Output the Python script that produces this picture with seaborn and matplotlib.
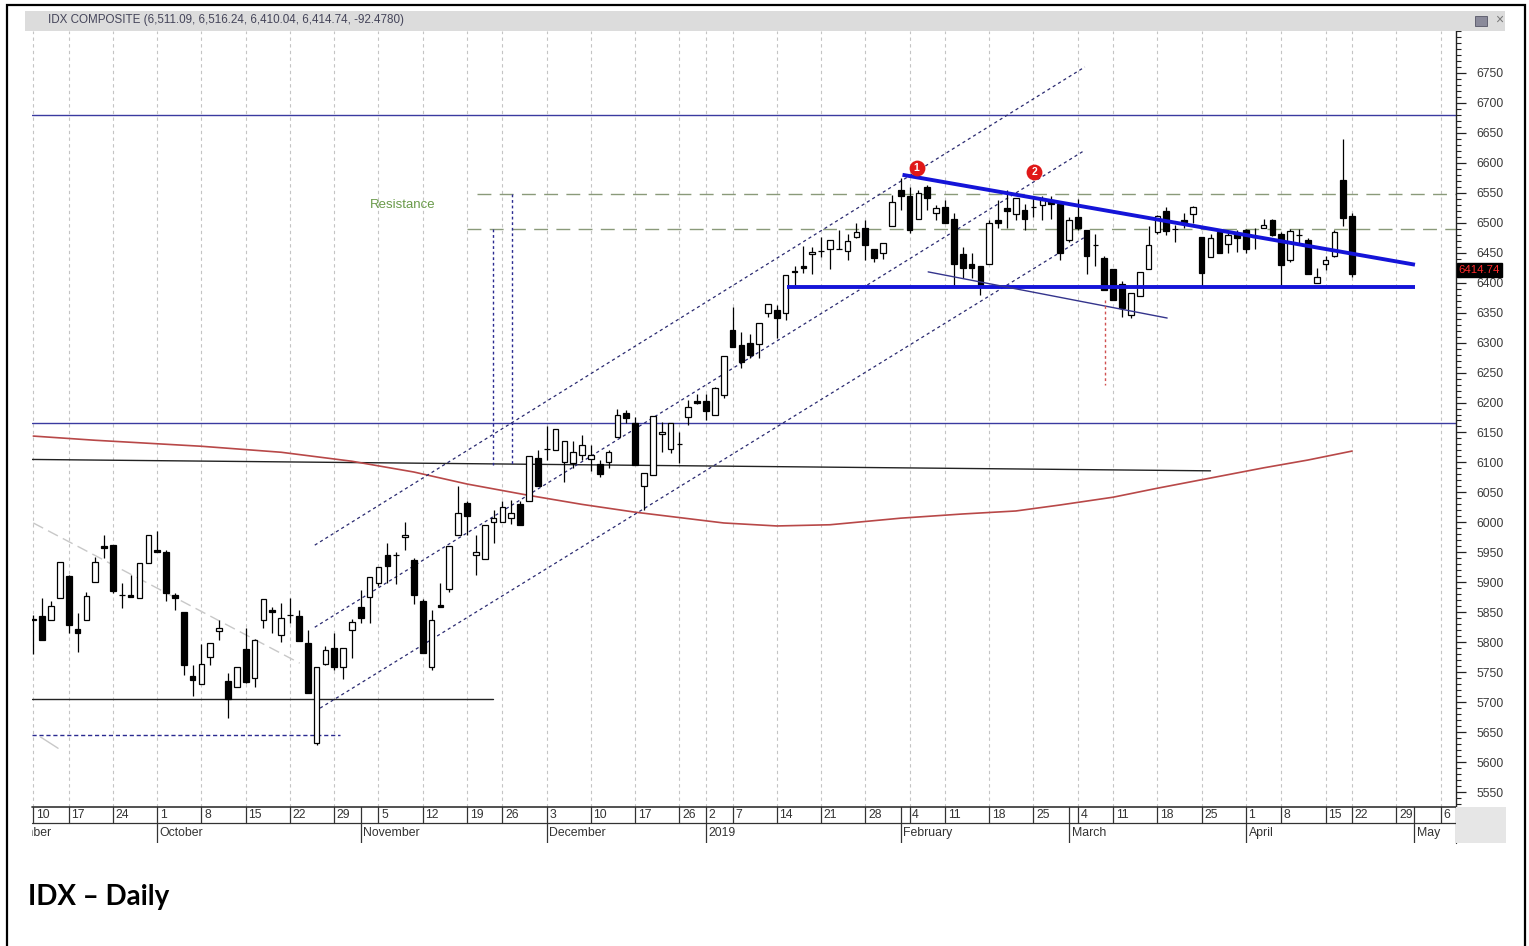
import numpy as np
import pandas as pd
import matplotlib
matplotlib.use("Agg")
import matplotlib.pyplot as plt
import seaborn as sns
from matplotlib.patches import Rectangle
from matplotlib.ticker import MultipleLocator

# === DATA ===
FIRST_BAR = "2018-09-10"
HOLIDAYS = ["2018-09-11", "2018-11-20", "2018-12-24", "2018-12-25", "2018-12-31",
            "2019-01-01", "2019-02-05", "2019-03-07", "2019-04-03", "2019-04-17", "2019-04-19"]
LAST_BAR = "2019-04-22"

OPEN = [5838, 5843, 5837, 5873, 5911, 5822, 5837, 5900, 5960, 5962,
        5879, 5878, 5873, 5933, 5954, 5950, 5878, 5850, 5743, 5730,
        5776, 5818, 5736, 5725, 5789, 5740, 5837, 5854, 5812, 5845,
        5843, 5799, 5631, 5764, 5791, 5759, 5820, 5858, 5876, 5898,
        5946, 5946, 5975, 5937, 5869, 5758, 5862, 5889, 5979, 6032,
        5946, 5939, 6001, 6001, 6007, 6031, 6035, 6107, 6122, 6121,
        6100, 6099, 6112, 6106, 6097, 6100, 6143, 6182, 6165, 6060,
        6079, 6148, 6122, 6131, 6176, 6203, 6203, 6179, 6212, 6321,
        6296, 6300, 6298, 6350, 6354, 6350, 6420, 6427, 6448, 6453,
        6456, 6456, 6453, 6477, 6492, 6457, 6449, 6495, 6555, 6544,
        6506, 6559, 6517, 6526, 6506, 6448, 6432, 6428, 6432, 6505,
        6524, 6515, 6522, 6527, 6530, 6538, 6532, 6471, 6510, 6488,
        6463, 6442, 6422, 6398, 6346, 6378, 6422, 6485, 6519, 6489,
        6505, 6515, 6477, 6443, 6485, 6465, 6481, 6488, 6477, 6492,
        6505, 6482, 6438, 6480, 6472, 6399, 6431, 6445, 6571, 6511.09]
HIGH = [5845, 5873, 5868, 5934, 5912, 5848, 5884, 5942, 5979, 5962,
        5898, 5912, 5933, 5979, 5985, 5954, 5882, 5850, 5762, 5797,
        5799, 5837, 5748, 5759, 5823, 5805, 5872, 5859, 5865, 5873,
        5854, 5820, 5758, 5793, 5816, 5791, 5838, 5887, 5908, 5925,
        5965, 5951, 6001, 5940, 5872, 5854, 5898, 5960, 6061, 6036,
        5979, 5996, 6020, 6036, 6037, 6036, 6110, 6120, 6160, 6156,
        6135, 6135, 6146, 6129, 6104, 6121, 6190, 6188, 6176, 6083,
        6178, 6168, 6166, 6151, 6204, 6215, 6215, 6226, 6278, 6360,
        6318, 6315, 6333, 6364, 6363, 6413, 6428, 6461, 6460, 6476,
        6471, 6488, 6482, 6500, 6505, 6457, 6467, 6546, 6574, 6559,
        6554, 6563, 6530, 6538, 6517, 6459, 6449, 6428, 6505, 6538,
        6555, 6541, 6532, 6541, 6544, 6544, 6532, 6510, 6539, 6488,
        6482, 6445, 6422, 6402, 6382, 6417, 6494, 6513, 6526, 6496,
        6517, 6528, 6477, 6481, 6488, 6488, 6488, 6489, 6491, 6507,
        6507, 6485, 6489, 6489, 6474, 6424, 6445, 6488, 6639, 6516.24]
LOW = [5781, 5803, 5837, 5873, 5816, 5784, 5837, 5900, 5940, 5882,
       5857, 5875, 5873, 5933, 5950, 5868, 5854, 5745, 5710, 5730,
       5762, 5804, 5673, 5725, 5732, 5725, 5823, 5815, 5800, 5832,
       5802, 5715, 5628, 5762, 5753, 5738, 5773, 5832, 5832, 5893,
       5898, 5897, 5954, 5864, 5782, 5754, 5858, 5884, 5979, 5979,
       5912, 5939, 5965, 6001, 5998, 5996, 6035, 6061, 6104, 6121,
       6068, 6090, 6104, 6085, 6075, 6090, 6143, 6165, 6096, 6021,
       6079, 6118, 6115, 6099, 6163, 6198, 6171, 6179, 6207, 6292,
       6257, 6274, 6274, 6343, 6307, 6338, 6396, 6416, 6415, 6443,
       6422, 6456, 6438, 6474, 6438, 6435, 6439, 6495, 6521, 6483,
       6506, 6522, 6505, 6499, 6396, 6407, 6407, 6380, 6432, 6491,
       6491, 6505, 6488, 6510, 6505, 6506, 6438, 6468, 6488, 6415,
       6427, 6387, 6371, 6343, 6341, 6378, 6422, 6482, 6480, 6468,
       6491, 6499, 6395, 6443, 6450, 6449, 6452, 6450, 6457, 6491,
       6478, 6396, 6435, 6463, 6415, 6399, 6421, 6443, 6494, 6410.04]
CLOSE = [5837, 5803, 5861, 5934, 5828, 5816, 5877, 5934, 5958, 5886,
         5879, 5875, 5932, 5979, 5950, 5882, 5873, 5762, 5737, 5764,
         5799, 5824, 5705, 5759, 5733, 5803, 5872, 5850, 5840, 5845,
         5802, 5715, 5758, 5787, 5759, 5791, 5834, 5840, 5908, 5925,
         5927, 5946, 5979, 5879, 5782, 5837, 5858, 5960, 6016, 6010,
         5951, 5996, 6007, 6025, 6016, 5996, 6110, 6061, 6122, 6156,
         6135, 6118, 6129, 6112, 6081, 6118, 6179, 6175, 6096, 6083,
         6178, 6151, 6166, 6131, 6193, 6200, 6186, 6224, 6278, 6292,
         6268, 6279, 6333, 6364, 6341, 6413, 6417, 6424, 6452, 6453,
         6471, 6456, 6470, 6485, 6463, 6442, 6467, 6535, 6544, 6488,
         6550, 6541, 6524, 6500, 6432, 6424, 6424, 6396, 6500, 6499,
         6519, 6541, 6506, 6527, 6538, 6532, 6449, 6505, 6492, 6445,
         6463, 6387, 6371, 6357, 6382, 6417, 6463, 6511, 6487, 6489,
         6502, 6527, 6416, 6474, 6450, 6480, 6474, 6457, 6477, 6497,
         6480, 6430, 6487, 6480, 6415, 6409, 6438, 6485, 6507.22, 6414.74]

# 200-day moving average, read at a few bars
MA_BAR = [0, 7, 19, 28, 36, 43, 49, 56, 62, 68, 78, 84, 90, 98, 105, 111, 116, 122, 127, 133, 139, 144, 149]
MA_VAL = [6144, 6137, 6127, 6117, 6102, 6084, 6064, 6045, 6030, 6017, 5999, 5994, 5996,
          6007, 6014, 6019, 6029, 6042, 6057, 6074, 6091, 6104, 6119]

# drawn studies: (bar, price) end points
CH_UPPER = ([31.8, 118.8], [5962, 6760])
CH_MIDDLE = ([31.8, 118.8], [5825, 6621])
CH_LOWER = ([32.4, 118.8], [5690, 6476])
OLD_TREND = ([0, 30.1], [5999, 5765])
OLD_TREND2 = ([0.8, 2.8], [5642, 5623])
DOWN_TREND = ([98.2, 156.1], [6580, 6430])
SUPPORT = ([85.1, 156.1], [6393, 6393])
WEDGE_LOW = ([101.1, 128.1], [6418, 6341])
BLACK_LINE = ([-0.2, 133.0], [6105, 6086])
BLACK_LOW = ([-0.2, 51.9], [5705, 5705])
BLUE_DASH_LOW = ([-0.2, 34.7], [5645, 5645])
BLUE_LEVELS = [6680, 6166]
RESIST_HI = ([50.1, 161], [6548, 6548])
RESIST_LO = ([49.0, 161], [6490, 6490])
TARGET_A = (51.9, 6490, 6096)
TARGET_B = (54.1, 6548, 6096)
RED_DROP = (121.1, 6371, 6229)
PEAKS = ([99.8, 113.1], [6591, 6585], ["1", "2"])

HEADER = "IDX COMPOSITE (6,511.09, 6,516.24, 6,410.04, 6,414.74, -92.4780)"
LAST_PRICE = 6414.74
CAPTION = "IDX \u2013 Daily"

# === TRADING CALENDAR ===
days = pd.bdate_range("2018-09-03", "2019-05-10")
past = days[(days <= LAST_BAR) & (~days.isin(pd.to_datetime(HOLIDAYS)))]
future = days[days > LAST_BAR]
cal = past.append(future)
pos = np.arange(len(cal)) - list(cal).index(pd.Timestamp(FIRST_BAR))
cal_df = pd.DataFrame({"date": cal, "pos": pos})
iso = cal_df["date"].dt.isocalendar()
week_starts = cal_df.groupby([iso["year"], iso["week"]])["pos"].min().values
month_starts = cal_df.groupby([cal_df["date"].dt.year, cal_df["date"].dt.month])["pos"].min().values
date_at = dict(zip(cal_df["pos"], cal_df["date"]))

# === FIGURE ===
sns.set_theme(style="white")
plt.rcParams["font.family"] = ["Liberation Sans", "DejaVu Sans"]
W, H = 1529, 946
fig = plt.figure(figsize=(W / 100, H / 100), dpi=100)

def fx(px):
    return px / W

def fy(py):
    return 1 - py / H

L, R, T, B = 31.7, 1455.7, 31, 807
ax = fig.add_axes([fx(L), fy(B), fx(R - L), (B - T) / H])
XLIM = (-0.18, 160.7)
ax.set_xlim(*XLIM)
ax.set_ylim(5525, 6820)
ax.set_facecolor("white")

# weekly grid
for p in week_starts:
    ax.axvline(p, color="#c4c4c4", lw=0.8, ls=(0, (3, 3)), zorder=0)

# horizontal levels
for lvl in BLUE_LEVELS:
    ax.axhline(lvl, color="#3a3aa0", lw=1.0, zorder=1)
ax.plot(*BLACK_LINE, color="#222222", lw=1.0, zorder=1)
ax.plot(*BLACK_LOW, color="#222222", lw=1.0, zorder=1)
ax.plot(*BLUE_DASH_LOW, color="#2a2a90", lw=1.0, ls=(0, (3, 2)), zorder=1)
ax.plot(*OLD_TREND, color="#c8c8c8", lw=1.0, ls=(0, (8, 4)), zorder=1)
ax.plot(*OLD_TREND2, color="#c8c8c8", lw=1.0, zorder=1)

# resistance zone
ax.plot(*RESIST_HI, color="#8a9a7a", lw=1.0, ls=(0, (10, 6)), zorder=1)
ax.plot(*RESIST_LO, color="#8a9a7a", lw=1.0, ls=(0, (10, 6)), zorder=1)
ax.text(41.7, 6530, "Resistance", color="#6a9a4a", fontsize=9.5, ha="center", va="center")
for xb, ytop, ybot in (TARGET_A, TARGET_B):
    ax.plot([xb, xb], [ytop, ybot], color="#2a2a90", lw=1.0, ls=(0, (2, 2)), zorder=1)

# moving average
sns.lineplot(x=MA_BAR, y=MA_VAL, ax=ax, color="#b84848", lw=1.2, zorder=1)

# price channel
for line in (CH_UPPER, CH_MIDDLE, CH_LOWER):
    ax.plot(*line, color="#2a2a70", lw=0.9, ls=(0, (2.5, 2.5)), zorder=1)

# candles
n = len(OPEN)
xs = np.arange(n)
o, h, l, c = map(np.array, (OPEN, HIGH, LOW, CLOSE))
up = c >= o
ax.vlines(xs, l, h, color="black", lw=0.9, zorder=2)
ax.bar(xs, np.abs(c - o), bottom=np.minimum(o, c), width=0.64,
       color=np.where(up, "white", "black"), edgecolor="black", linewidth=0.9, zorder=3)

# drawn studies on top
ax.plot(*DOWN_TREND, color="#1414d8", lw=2.8, zorder=4, solid_capstyle="butt")
ax.plot(*SUPPORT, color="#1414d8", lw=2.8, zorder=4, solid_capstyle="butt")
ax.plot(*WEDGE_LOW, color="#34348c", lw=1.0, zorder=4)
ax.plot([RED_DROP[0]] * 2, RED_DROP[1:], color="#d05050", lw=1.0, ls=(0, (2, 2)), zorder=4)
ax.scatter(PEAKS[0], PEAKS[1], s=130, color="#e01818", zorder=5, linewidths=0)
for xp, yp, lab in zip(*PEAKS):
    ax.text(xp, yp, lab, color="white", fontsize=7.5, fontweight="bold",
            ha="center", va="center", zorder=6)

# right price axis
for side in ("left", "top", "bottom"):
    ax.spines[side].set_visible(False)
ax.spines["right"].set_color("#222222")
ax.spines["right"].set_linewidth(1.0)
ax.set_xticks([])
ax.yaxis.tick_right()
ax.set_yticks(np.arange(5550, 6751, 50))
ax.yaxis.set_minor_locator(MultipleLocator(10))
ax.tick_params(axis="y", which="major", length=7, width=0.9, color="#222222",
               labelsize=8.8, labelcolor="#3a3a3a", pad=8, right=True)
ax.tick_params(axis="y", which="minor", length=3.5, width=0.8, color="#222222", right=True)
ax.text(1.0 + 3 / (R - L), LAST_PRICE + 6, f"{LAST_PRICE:.2f}", transform=ax.get_yaxis_transform(),
        color="#ff2a2a", fontsize=8.2, ha="left", va="center", clip_on=False, zorder=10,
        bbox=dict(boxstyle="square,pad=0.18", fc="black", ec="black"))

# date axis
axd = fig.add_axes([fx(L), fy(843), fx(R - L), 36 / H])
axd.set_xlim(*XLIM)
axd.set_ylim(0, 36)
axd.axis("off")
axd.axhline(36, color="#333333", lw=1.2, clip_on=False)
axd.axhline(20, color="#333333", lw=0.9, clip_on=False)
seps = sorted(set(week_starts) | set(month_starts))
for p in seps:
    if XLIM[0] <= p <= XLIM[1]:
        axd.plot([p, p], [20, 36], color="#333333", lw=0.9)
for p in week_starts:
    if XLIM[0] <= p <= XLIM[1]:
        axd.text(p + 0.3, 28, str(date_at[p].day), fontsize=8.8, color="#333333",
                 ha="left", va="center", clip_on=True)
for p in month_starts:
    d = date_at[p]
    name = str(d.year) if d.month == 1 else d.strftime("%B")
    if XLIM[0] <= p <= XLIM[1]:
        axd.plot([p, p], [0, 20], color="#333333", lw=0.9)
    axd.text(p + 0.3, 10, name, fontsize=8.8, color="#333333", ha="left", va="center", clip_on=True)
axd.plot([XLIM[1]] * 2, [0, 36], color="#333333", lw=0.9, clip_on=False)
fig.add_artist(Rectangle((fx(R + 0.5), fy(843)), fx(50), 36 / H, transform=fig.transFigure,
                         fc="#e6e6e6", ec="none"))

# header band
fig.add_artist(Rectangle((fx(25), fy(31)), fx(1480), 20 / H, transform=fig.transFigure,
                         fc="#dcdcdc", ec="none"))
fig.text(fx(48), fy(19.5), HEADER, fontsize=8.4, color="#45455a", va="center", ha="left",
         family=["Liberation Sans Narrow", "Liberation Sans", "DejaVu Sans"])
fig.add_artist(Rectangle((fx(1475), fy(26)), fx(12), 10 / H, transform=fig.transFigure,
                         fc="#8a8a9a", ec="#555566", lw=0.6))
fig.text(fx(1495), fy(20), "\u00d7", fontsize=10, color="#777777", va="center", ha="left")

# caption and outer frame
fig.text(fx(28), fy(897), CAPTION, fontsize=20, fontweight="bold", color="black",
         va="center", ha="left", family=["Lato", "DejaVu Sans"])
fig.add_artist(Rectangle((fx(7.5), -0.01), fx(1517), fy(5) + 0.01, transform=fig.transFigure,
                         fc="none", ec="black", lw=1.6))

fig.savefig("out.png", dpi=100)
